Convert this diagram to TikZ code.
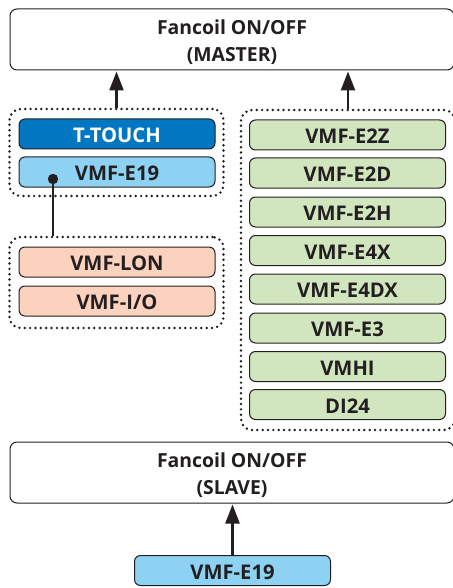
\documentclass[tikz,border=0pt]{standalone}
\usepackage{fontspec}
\setmainfont{Open Sans}
\usetikzlibrary{arrows.meta}
\definecolor{ink}{HTML}{231F20}
\definecolor{dblue}{HTML}{0077C0}
\definecolor{lblue}{HTML}{8DD1F3}
\definecolor{salmon}{HTML}{FBD2BE}
\definecolor{lgreen}{HTML}{D1E6BE}
\newcommand{\lift}{\rule{0pt}{20pt}}
\tikzset{
  x=1pt,y=-1pt,
  mainbox/.style={draw=ink,line width=1pt,fill=white,rounded corners=7pt,minimum width=444pt,minimum height=61pt,inner sep=0pt,align=center,text=ink,font=\bfseries\fontsize{19.4}{27}\selectfont},
  unit/.style={draw=ink,line width=1pt,rounded corners=6pt,minimum width=196pt,minimum height=30pt,inner sep=0pt,text=ink,text height=17pt,text depth=0pt,font=\bfseries\fontsize{20.2}{22}\selectfont},
  group/.style={draw=ink,line width=2.7pt,dash pattern=on 0pt off 5.35pt,line cap=round,rounded corners=11pt,inner sep=0pt},
  flow/.style={draw=ink,line width=2.4pt,-{Triangle[length=19pt,width=14pt]},shorten >=1pt},
  link/.style={draw=ink,line width=2.6pt}
}
\begin{document}
\begin{tikzpicture}
\useasboundingbox (0,0) rectangle (452,588);
\node[mainbox] (master) at (232,39.5) {\lift Fancoil ON/OFF\\(MASTER)};
\node[mainbox] (slave) at (232,472.5) {\lift Fancoil ON/OFF\\(SLAVE)};
\node[group,minimum width=214pt,minimum height=87pt] (g1) at (116.5,152.5) {};
\node[group,minimum width=214pt,minimum height=91pt] (g2) at (116.5,282.5) {};
\node[group,minimum width=214pt,minimum height=320pt] (g3) at (348,270) {};
\node[unit,fill=dblue,text=white] (ttouch) at (117,134) {T-TOUCH};
\node[unit,fill=lblue] (e19) at (117,172) {VMF-E19};
\node[unit,fill=salmon] (lon) at (117,262) {VMF-LON};
\node[unit,fill=salmon] (io) at (117,301) {VMF-I/O};
\node[unit,fill=lgreen] (e2z) at (347.5,135) {VMF-E2Z};
\node[unit,fill=lgreen] (e2d) at (347.5,173) {VMF-E2D};
\node[unit,fill=lgreen] (e2h) at (347.5,212) {VMF-E2H};
\node[unit,fill=lgreen] (e4x) at (347.5,250.5) {VMF-E4X};
\node[unit,fill=lgreen] (e4dx) at (347.5,289) {VMF-E4DX};
\node[unit,fill=lgreen] (e3) at (347.5,328) {VMF-E3};
\node[unit,fill=lgreen] (vmhi) at (347.5,366.5) {VMHI};
\node[unit,fill=lgreen] (di) at (347.5,404.5) {DI24};
\node[unit,fill=lblue] (e19b) at (232.5,570.5) {VMF-E19};
\draw[flow] (g1.north) -- (g1.north |- master.south);
\draw[flow] (g3.north) -- (g3.north |- master.south);
\draw[flow] (e19b.north) -- (e19b.north |- slave.south);
\coordinate (dot) at (53,179);
\fill[ink] (dot) circle (5.2pt);
\draw[link] (dot) -- (dot |- g2.north);
\end{tikzpicture}
\end{document}
